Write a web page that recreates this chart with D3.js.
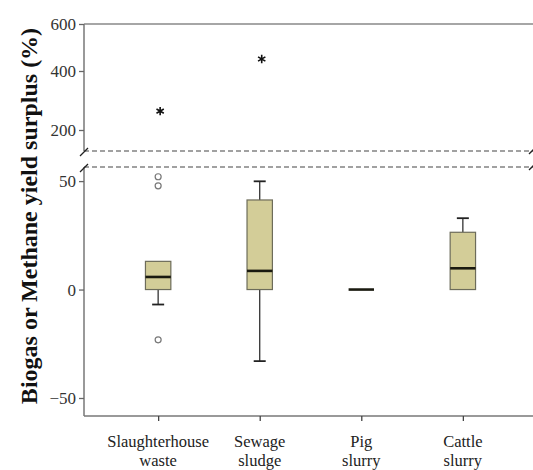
<!DOCTYPE html>
<meta charset="utf-8">
<head>
    <title>Biogas or methane yield surplus</title>
    <script src="https://cdn.jsdelivr.net/npm/d3@7"></script>
    <style>
        body { margin: 0; background: #fff; }
        text { font-family: "Liberation Serif", "Times New Roman", serif; }
    </style>
</head>
<body>
    <svg id="chart"></svg>
    <script>
        // data
        var categories = ["Slaughterhouse waste", "Sewage sludge", "Pig slurry", "Cattle slurry"];
        var labelLines = [["Slaughterhouse", "waste"], ["Sewage", "sludge"], ["Pig", "slurry"], ["Cattle", "slurry"]];
        var q1 = [0, 0, 0, 0];
        var median = [5.8, 8.6, 0, 9.8];
        var q3 = [13, 41.3, 0, 26.4];
        var whiskerLow = [-6.9, -33, 0, 0];
        var whiskerHigh = [13, 49.9, 0, 32.9];
        var outliers = [[52, 47.8, -23.2], [], [], []];
        var extremes = [[264], [451], [], []];
        var topTicks = [200, 400, 600];
        var bottomTicks = [-50, 0, 50];

        var w = 533, h = 470;
        var x0 = 84, x1 = 537;
        var serif = "'Liberation Serif', 'Times New Roman', serif";

        var svg = d3.select("#chart")
            .attr("width", w)
            .attr("height", h);

        var x = d3.scalePoint()
            .domain(categories)
            .range([x0, x1])
            .padding(0.73);

        // upper panel (broken axis), lower panel
        var yTop = d3.scaleLinear()
            .domain([130, 200, 400, 600])
            .range([151, 130, 71, 24]);

        var yBot = d3.scaleLinear()
            .domain([-58.3, 56.5])
            .range([416, 167]);

        var boxW = x.step() * 0.25;
        var capW = 12;

        // frame
        svg.append("line").attr("x1", x0).attr("x2", w).attr("y1", 24).attr("y2", 24)
            .attr("stroke", "#888").attr("stroke-width", 1.5);
        svg.append("line").attr("x1", x0).attr("x2", x0).attr("y1", 24).attr("y2", 151)
            .attr("stroke", "#777").attr("stroke-width", 1.5);
        svg.append("line").attr("x1", x0).attr("x2", x0).attr("y1", 167).attr("y2", 416)
            .attr("stroke", "#777").attr("stroke-width", 1.5);
        svg.append("line").attr("x1", x0).attr("x2", w).attr("y1", 416).attr("y2", 416)
            .attr("stroke", "#777").attr("stroke-width", 1.5);

        // break lines
        [151, 167].forEach(function (yy) {
            svg.append("line").attr("x1", x0).attr("x2", w).attr("y1", yy).attr("y2", yy)
                .attr("stroke", "#444").attr("stroke-width", 1.1)
                .attr("stroke-dasharray", "5,3");
            svg.append("line").attr("x1", x0 - 4).attr("x2", x0 + 4).attr("y1", yy + 5).attr("y2", yy - 3)
                .attr("stroke", "#222").attr("stroke-width", 1.3);
            svg.append("line").attr("x1", 529).attr("x2", 534).attr("y1", yy + 3).attr("y2", yy - 2)
                .attr("stroke", "#222").attr("stroke-width", 1.3);
        });

        // y axes
        var axTop = svg.append("g")
            .attr("transform", "translate(" + x0 + ",0)")
            .call(d3.axisLeft(yTop).tickValues(topTicks).tickSize(5).tickPadding(3));
        var axBot = svg.append("g")
            .attr("transform", "translate(" + x0 + ",0)")
            .call(d3.axisLeft(yBot).tickValues(bottomTicks).tickSize(5).tickPadding(3));
        [axTop, axBot].forEach(function (ax) {
            ax.attr("font-family", serif).attr("font-size", 17);
            ax.select(".domain").remove();
            ax.selectAll(".tick line").attr("stroke", "#666").attr("stroke-width", 1.3);
            ax.selectAll(".tick text").attr("fill", "#333");
        });

        // x axis
        var axX = svg.append("g")
            .attr("transform", "translate(0,416)")
            .call(d3.axisBottom(x).tickSize(5).tickFormat(""));
        axX.select(".domain").remove();
        axX.selectAll(".tick line").attr("stroke", "#444").attr("stroke-width", 1.3);

        categories.forEach(function (c, i) {
            labelLines[i].forEach(function (s, j) {
                svg.append("text")
                    .attr("x", x(c))
                    .attr("y", 447 + j * 19)
                    .attr("text-anchor", "middle")
                    .attr("font-family", serif)
                    .attr("font-size", 16.5)
                    .attr("fill", "#222")
                    .text(s);
            });
        });

        // y title
        svg.append("text")
            .attr("transform", "translate(37,216) rotate(-90)")
            .attr("text-anchor", "middle")
            .attr("font-family", serif)
            .attr("font-size", 24)
            .attr("font-weight", "bold")
            .attr("fill", "#111")
            .text("Biogas or Methane yield surplus (%)");

        // boxes
        var g = svg.append("g");
        categories.forEach(function (c, i) {
            var cx = x(c);
            // whiskers
            g.append("line").attr("x1", cx).attr("x2", cx)
                .attr("y1", yBot(q3[i])).attr("y2", yBot(whiskerHigh[i]))
                .attr("stroke", "#333").attr("stroke-width", 1.3);
            g.append("line").attr("x1", cx).attr("x2", cx)
                .attr("y1", yBot(q1[i])).attr("y2", yBot(whiskerLow[i]))
                .attr("stroke", "#333").attr("stroke-width", 1.3);
            if (whiskerHigh[i] > q3[i]) {
                g.append("line").attr("x1", cx - capW / 2).attr("x2", cx + capW / 2)
                    .attr("y1", yBot(whiskerHigh[i])).attr("y2", yBot(whiskerHigh[i]))
                    .attr("stroke", "#222").attr("stroke-width", 1.8);
            }
            if (whiskerLow[i] < q1[i]) {
                g.append("line").attr("x1", cx - capW / 2).attr("x2", cx + capW / 2)
                    .attr("y1", yBot(whiskerLow[i])).attr("y2", yBot(whiskerLow[i]))
                    .attr("stroke", "#222").attr("stroke-width", 1.8);
            }
            if (q3[i] > q1[i]) {
                g.append("rect")
                    .attr("x", cx - boxW / 2)
                    .attr("y", yBot(q3[i]))
                    .attr("width", boxW)
                    .attr("height", yBot(q1[i]) - yBot(q3[i]))
                    .attr("fill", "#d3cd98")
                    .attr("stroke", "#6d6c5a")
                    .attr("stroke-width", 1.2);
            }
            g.append("line").attr("x1", cx - boxW / 2).attr("x2", cx + boxW / 2)
                .attr("y1", yBot(median[i])).attr("y2", yBot(median[i]))
                .attr("stroke", "#1a1a10").attr("stroke-width", 2.6);

            outliers[i].forEach(function (v) {
                g.append("circle")
                    .attr("cx", cx).attr("cy", yBot(v)).attr("r", 3)
                    .attr("fill", "none").attr("stroke", "#777").attr("stroke-width", 1.2);
            });
            extremes[i].forEach(function (v) {
                g.append("path")
                    .attr("transform", "translate(" + (cx + 2) + "," + yTop(v) + ")")
                    .attr("d", d3.symbol().type(d3.symbolAsterisk).size(50)())
                    .attr("fill", "none").attr("stroke", "#111").attr("stroke-width", 1.6);
            });
        });
    </script>
</body>
</html>
